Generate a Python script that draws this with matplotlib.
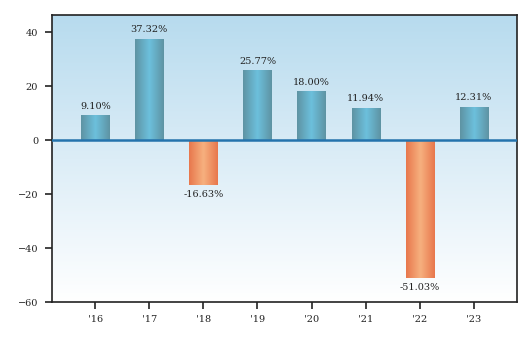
import numpy as np
import matplotlib
matplotlib.use("Agg")
import matplotlib.pyplot as plt
from matplotlib.colors import LinearSegmentedColormap

years = ["'16", "'17", "'18", "'19", "'20", "'21", "'22", "'23"]
returns = [9.10, 37.32, -16.63, 25.77, 18.00, 11.94, -51.03, 12.31]

plt.rcParams['font.family'] = ['DejaVu Serif']
fig = plt.figure(figsize=(5.31, 3.42), dpi=100)
ax = fig.add_axes([52/531, 1-302/342, (517-52)/531, (302-15)/342])
ax.set_xlim(-0.8, 7.8)
ax.set_ylim(-60, 46.3)

# background gradient
bg = LinearSegmentedColormap.from_list('bg', ['#ffffff', '#dcedf7', '#b7dbee'])
grad = np.linspace(0, 1, 256).reshape(-1, 1)
ax.imshow(grad, cmap=bg, aspect='auto', origin='lower',
          extent=[-0.8, 7.8, -60, 46.3], zorder=0)

blue = LinearSegmentedColormap.from_list('b', ['#5e93a3', '#6cc0dc', '#5e93a3'])
orange = LinearSegmentedColormap.from_list('o', ['#e8774c', '#f6b07f', '#e8774c'])
hgrad = np.linspace(0, 1, 256).reshape(1, -1)

x = np.arange(len(years))
bars = ax.bar(x, returns, width=0.52, color='none', edgecolor='none', zorder=2)
for b, v in zip(bars, returns):
    x0, y0 = b.get_x(), b.get_y()
    w, h = b.get_width(), b.get_height()
    im = ax.imshow(hgrad, cmap=blue if v >= 0 else orange, aspect='auto',
                   extent=[x0, x0 + w, min(y0, y0 + h), max(y0, y0 + h)], zorder=2)
    im.set_clip_path(b)
    lab = f"{v:.2f}%"
    if v >= 0:
        ax.annotate(lab, (x0 + w/2, v), xytext=(0, 3.5), textcoords='offset points',
                    ha='center', va='bottom', fontsize=7, color='#222222')
    else:
        ax.annotate(lab, (x0 + w/2, v), xytext=(0, -3.5), textcoords='offset points',
                    ha='center', va='top', fontsize=7, color='#222222')

ax.axhline(0, color='#2473ad', lw=1.8, zorder=3)
ax.set_xticks(x)
ax.set_xticklabels(years)
ax.set_yticks([-60, -40, -20, 0, 20, 40])
ax.tick_params(labelsize=7, colors='#222222', length=5, width=1.2)
ax.tick_params(axis='x', pad=4)
ax.tick_params(axis='y', pad=5)
for s in ax.spines.values():
    s.set_linewidth(1.2)
    s.set_color('#222222')
ax.set_xlim(-0.8, 7.8)
ax.set_ylim(-60, 46.3)
fig.savefig('out.png', dpi=100)
